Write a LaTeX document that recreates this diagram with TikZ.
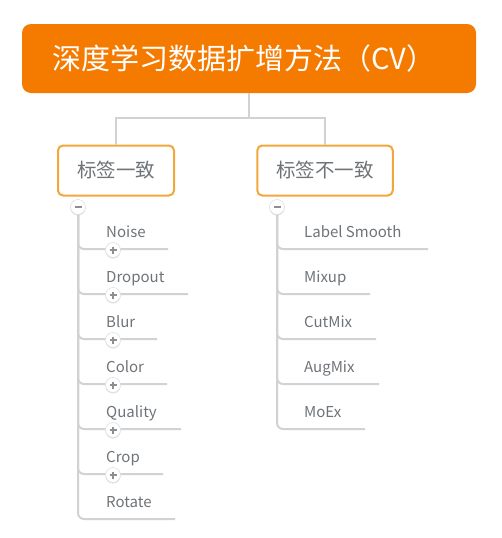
\documentclass[tikz,border=0pt]{standalone}
\usepackage{fontspec}
\setmainfont{Noto Sans CJK SC}
\usetikzlibrary{positioning,shadows}
\definecolor{rootorange}{HTML}{F57A00}
\definecolor{boxorange}{HTML}{F2A73B}
\definecolor{linegray}{HTML}{D0D2D4}
\definecolor{textgray}{HTML}{6E7378}
\tikzset{
  rootbox/.style={fill=rootorange, rounded corners=9pt, minimum width=454pt, minimum height=69pt,
    text=white, font=\fontsize{29}{32}\selectfont, inner sep=0pt},
  topicbox/.style={draw=boxorange, line width=2pt, rounded corners=5pt, fill=white, minimum height=50pt,
    inner xsep=19pt, text=textgray, font=\fontsize{19.5}{21}\selectfont},
  leaf/.style={anchor=base west, text=textgray, font=\fontsize{15}{17}\selectfont, inner sep=0pt},
  branch/.style={draw=linegray, line width=2pt, rounded corners=6pt},
  trunk/.style={draw=linegray, line width=2pt},
  toggle/.style={circle, draw=linegray!70, line width=0.6pt, fill=white, minimum size=15pt, inner sep=0pt,
    drop shadow={shadow xshift=0pt, shadow yshift=-1pt, fill=black!25}},
  plustoggle/.style={toggle, path picture={
    \draw[textgray!80, line width=1.8pt] ([xshift=-3.5pt]path picture bounding box.center) -- ([xshift=3.5pt]path picture bounding box.center)
      ([yshift=-3.5pt]path picture bounding box.center) -- ([yshift=3.5pt]path picture bounding box.center);}},
  minustoggle/.style={toggle, path picture={
    \draw[textgray!80, line width=1.8pt] ([xshift=-3.5pt]path picture bounding box.center) -- ([xshift=3.5pt]path picture bounding box.center);}},
}
\begin{document}
\begin{tikzpicture}[x=1pt,y=-1pt]
\useasboundingbox (0,0) rectangle (501,538);
\node[rootbox] (root) at (249,58.5) {\hspace*{-10pt}深度学习数据扩增方法（CV）};
\node[topicbox] (same) at (116,170.5) {标签一致};
\node[topicbox] (diff) at (325,170.5) {标签不一致};
\coordinate (split) at (249,118);
\draw[trunk] (root.south) -- (split) -| (same.north);
\draw[trunk] (split) -| (diff.north);
% left column
\coordinate (m1) at (78,207);
\foreach \name/\len [count=\i] in {Noise/168,Dropout/188,Blur/157,Color/167,Quality/181,Crop/163,Rotate/175}
{
  \coordinate (l\i-end) at (\len,{249+45*(\i-1)});
  \draw[branch] (m1) |- (l\i-end);
  \node[leaf] (l\i) at (106,{237.5+45*(\i-1)}) {\name};
}
\foreach \i in {1,...,6}
{\node[plustoggle] (p\i) at (113,{250+45*(\i-1)}) {};
}
\node[minustoggle] (t1) at (m1) {};
% right column
\coordinate (m2) at (277,207);
\foreach \name/\len [count=\i] in {Label Smooth/428,Mixup/370,CutMix/376,AugMix/379,MoEx/365}
{
  \coordinate (r\i-end) at (\len,{249+45*(\i-1)});
  \draw[branch] (m2) |- (r\i-end);
  \node[leaf] (r\i) at (304,{237.5+45*(\i-1)}) {\name};
}
\node[minustoggle] (t2) at (m2) {};
\end{tikzpicture}
\end{document}
